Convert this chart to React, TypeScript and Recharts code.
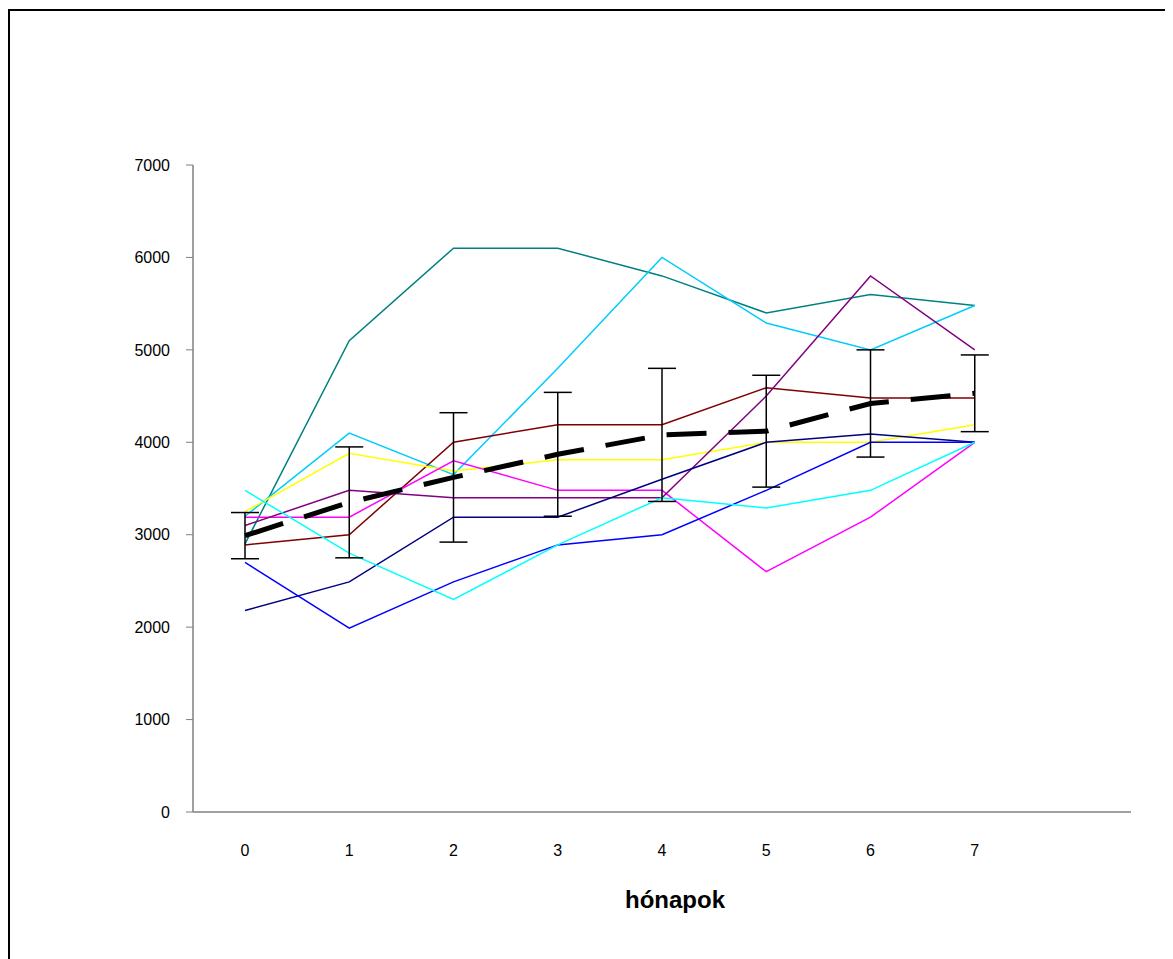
import React from 'react';
import { LineChart, Line, XAxis, YAxis, ErrorBar, Label } from 'recharts';

const months = ['0', '1', '2', '3', '4', '5', '6', '7', ''];
const teal = [2900, 5100, 6100, 6100, 5800, 5400, 5600, 5480];
const skyBlue = [3200, 4100, 3650, 4800, 6000, 5290, 5000, 5480];
const maroon = [2890, 3000, 4000, 4190, 4190, 4590, 4480, 4480];
const yellow = [3250, 3880, 3690, 3810, 3810, 4000, 4000, 4190];
const magenta = [3190, 3190, 3800, 3480, 3480, 2600, 3190, 4000];
const purple = [3100, 3480, 3400, 3400, 3400, 4500, 5800, 5000];
const navy = [2180, 2490, 3190, 3190, 3600, 4000, 4090, 4000];
const blue = [2700, 1990, 2490, 2890, 3000, 3480, 4000, 4000];
const cyan = [3480, 2800, 2300, 2890, 3400, 3290, 3480, 4000];
const mean = [2990, 3350, 3620, 3870, 4080, 4120, 4420, 4530];
const meanErr = [250, 600, 700, 670, 720, 605, 580, 415];
const yTicks = [0, 1000, 2000, 3000, 4000, 5000, 6000, 7000];

const seriesDefs: [string, number[], string][] = [
  ['teal', teal, '#008080'],
  ['skyBlue', skyBlue, '#00CCFF'],
  ['maroon', maroon, '#800000'],
  ['yellow', yellow, '#FFFF00'],
  ['magenta', magenta, '#FF00FF'],
  ['purple', purple, '#800080'],
  ['navy', navy, '#000080'],
  ['blue', blue, '#0000FF'],
  ['cyan', cyan, '#00FFFF'],
];

const data = months.map((m, i) => {
  const row: Record<string, any> = { month: m };
  seriesDefs.forEach(([k, arr]) => {
    row[k] = i < arr.length ? arr[i] : null;
  });
  row.mean = i < mean.length ? mean[i] : null;
  row.err = i < meanErr.length ? meanErr[i] : null;
  return row;
});

const font = '"Liberation Sans", Arial, sans-serif';

export default function App() {
  return (
    <div style={{ position: 'relative', width: 1165, height: 951, overflow: 'hidden', background: '#fff' }}>
      <div
        style={{
          position: 'absolute',
          left: 0,
          top: 1,
          width: 1300,
          height: 1100,
          border: '2px solid #000',
          boxSizing: 'border-box',
        }}
      />
      <div style={{ position: 'absolute', left: 0, top: 0 }}>
        <LineChart
          width={1165}
          height={951}
          data={data}
          margin={{ top: 157, right: 42, bottom: 47, left: 0 }}
          style={{ fontFamily: font }}
        >
          <XAxis
            dataKey="month"
            axisLine={{ stroke: '#808080', strokeWidth: 1.5 }}
            tickLine={false}
            tickSize={0}
            tickMargin={33}
            height={100}
            interval={0}
            padding={{ left: 52, right: 52 }}
            tick={{ fill: '#000', fontSize: 16, fontFamily: font }}
          >
            <Label
              value="hónapok"
              position="insideBottom"
              offset={4}
              dx={13}
              style={{ fill: '#000', fontSize: 24, fontWeight: 'bold', fontFamily: font }}
            />
          </XAxis>
          <YAxis
            domain={[0, 7000]}
            ticks={yTicks}
            width={185}
            axisLine={{ stroke: '#808080', strokeWidth: 1.5 }}
            tickLine={{ stroke: '#808080' }}
            tickSize={7}
            tickMargin={16}
            interval={0}
            tick={{ fill: '#000', fontSize: 16, fontFamily: font }}
          />
          {seriesDefs.map(([k, , c]) => (
            <Line
              key={k}
              dataKey={k}
              stroke={c}
              strokeWidth={1.5}
              dot={false}
              isAnimationActive={false}
              connectNulls={false}
            />
          ))}
          <Line
            dataKey="mean"
            stroke="#000"
            strokeWidth={5}
            strokeDasharray="40 22"
            dot={false}
            isAnimationActive={false}
          >
            <ErrorBar dataKey="err" width={14} stroke="#000" strokeWidth={1.5} direction="y" />
          </Line>
        </LineChart>
      </div>
    </div>
  );
}
